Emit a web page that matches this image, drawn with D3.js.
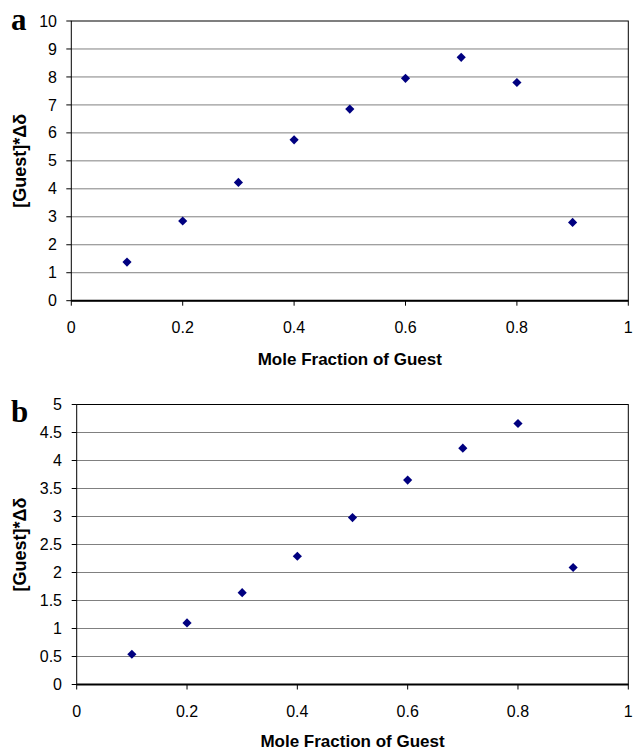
<!DOCTYPE html>
<html>
<head>
<meta charset="utf-8">
<script src="https://cdn.jsdelivr.net/npm/d3@7"></script>
<style>
  body { margin: 0; background: #fff; }
  text { font-family: "Liberation Sans", Arial, sans-serif; }
</style>
</head>
<body>
<svg width="633" height="750"></svg>
<script>
// mole fraction of guest (shared x values)
const moleFraction = [0.1, 0.2, 0.3, 0.4, 0.5, 0.6, 0.7, 0.8, 0.9];
// panel a values
const valuesA = [1.38, 2.85, 4.23, 5.75, 6.85, 7.95, 8.70, 7.80, 2.80];
// panel b values
const valuesB = [0.54, 1.10, 1.64, 2.29, 2.98, 3.65, 4.22, 4.66, 2.09];

const xTicks = [0, 0.2, 0.4, 0.6, 0.8, 1];
const yTicksA = [0, 1, 2, 3, 4, 5, 6, 7, 8, 9, 10];
const yTicksB = [0, 0.5, 1, 1.5, 2, 2.5, 3, 3.5, 4, 4.5, 5];

const svg = d3.select("svg");

function drawPanel(cfg) {
  const g = svg.append("g");
  const x = d3.scaleLinear().domain([0, 1]).range([cfg.left, cfg.right]);
  const y = d3.scaleLinear().domain([0, cfg.yMax]).range([cfg.bottom, cfg.top]);

  // horizontal gridlines
  g.selectAll("line.grid")
    .data(cfg.yTicks.filter(d => d > 0 && d < cfg.yMax))
    .enter().append("line")
    .attr("x1", cfg.left).attr("x2", cfg.right)
    .attr("y1", d => y(d)).attr("y2", d => y(d))
    .attr("stroke", "#808080").attr("stroke-width", 1);

  // plot frame
  g.append("rect")
    .attr("x", cfg.left).attr("y", cfg.top)
    .attr("width", cfg.right - cfg.left).attr("height", cfg.bottom - cfg.top)
    .attr("fill", "none").attr("stroke", "#000").attr("stroke-width", 1);
  g.append("line")
    .attr("x1", cfg.left).attr("x2", cfg.right)
    .attr("y1", cfg.bottom).attr("y2", cfg.bottom)
    .attr("stroke", "#000").attr("stroke-width", 2);

  // y ticks + labels
  g.selectAll("line.ytick")
    .data(cfg.yTicks).enter().append("line")
    .attr("x1", cfg.left - 5).attr("x2", cfg.left)
    .attr("y1", d => y(d)).attr("y2", d => y(d))
    .attr("stroke", "#000");
  g.selectAll("text.ylab")
    .data(cfg.yTicks).enter().append("text")
    .attr("x", cfg.yLabelRight).attr("y", d => y(d))
    .attr("dy", "0.35em")
    .attr("text-anchor", "end")
    .attr("font-size", 16)
    .text(d => d);

  // x ticks + labels
  g.selectAll("line.xtick")
    .data(xTicks).enter().append("line")
    .attr("x1", d => x(d)).attr("x2", d => x(d))
    .attr("y1", cfg.bottom).attr("y2", cfg.bottom + 5)
    .attr("stroke", "#000");
  g.selectAll("text.xlab")
    .data(xTicks).enter().append("text")
    .attr("x", d => x(d)).attr("y", cfg.xLabelY)
    .attr("text-anchor", "middle")
    .attr("font-size", 16)
    .text(d => d);

  // axis titles
  g.append("text")
    .attr("x", (cfg.left + cfg.right) / 2).attr("y", cfg.xTitleY)
    .attr("text-anchor", "middle")
    .attr("font-size", 17).attr("font-weight", "bold")
    .text("Mole Fraction of Guest");
  g.append("text")
    .attr("transform", `translate(26,${(cfg.top + cfg.bottom) / 2}) rotate(-90)`)
    .attr("text-anchor", "middle")
    .attr("font-size", 18).attr("font-weight", "bold")
    .text("[Guest]*Δδ");

  // panel letter
  g.append("text")
    .attr("x", 11).attr("y", cfg.letterY)
    .style("font-family", "'Liberation Serif', 'Times New Roman', serif")
    .attr("font-size", 31).attr("font-weight", "bold")
    .text(cfg.letter);

  // diamond markers
  const diamond = d3.symbol().type(d3.symbolSquare).size(42);
  g.selectAll("path.pt")
    .data(cfg.values).enter().append("path")
    .attr("d", diamond)
    .attr("transform", (d, i) => `translate(${x(moleFraction[i])},${y(d)}) rotate(45)`)
    .attr("fill", "#000080");
}

drawPanel({
  letter: "a", letterY: 30,
  left: 71.3, right: 628.3, top: 21, bottom: 300.7,
  yMax: 10, yTicks: yTicksA, values: valuesA,
  yLabelRight: 57, xLabelY: 333, xTitleY: 365
});

drawPanel({
  letter: "b", letterY: 422,
  left: 76.7, right: 628.3, top: 404.5, bottom: 684.5,
  yMax: 5, yTicks: yTicksB, values: valuesB,
  yLabelRight: 62, xLabelY: 717, xTitleY: 747
});
</script>
</body>
</html>
